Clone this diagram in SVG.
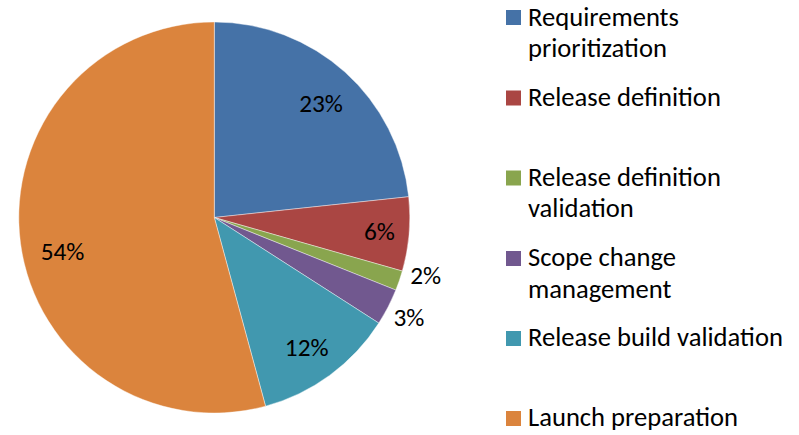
<svg xmlns="http://www.w3.org/2000/svg" width="799" height="435" viewBox="0 0 799 435">
  <style>
    text { font-family: Calibri, Carlito, "Open Sans", "Noto Sans", sans-serif; fill: #000; }
    .pct { font-size: 25.3px; text-anchor: middle; }
    .leg { font-size: 26.6px; }
    .slice { stroke: #ffffff; stroke-width: 0.6; stroke-opacity: 0.7; }
    .c1 { fill: #4572A7; }
    .c2 { fill: #AA4643; }
    .c3 { fill: #89A54E; }
    .c4 { fill: #71588F; }
    .c5 { fill: #4198AF; }
    .c6 { fill: #DB843D; }
  </style>
  <rect width="799" height="435" fill="#ffffff"/>

  <!-- pie slices, clockwise from 12 o'clock; centre (214.3, 217.5), r 195.5 -->
  <g id="pie">
    <g id="slice-requirements">
      <path class="slice c1" d="M214.3,217.5 L214.3,22 A195.5,195.5 0 0 1 408.69,196.73 Z"/>
      <text class="pct" x="321" y="112">23%</text>
    </g>
    <g id="slice-release-definition">
      <path class="slice c2" d="M214.3,217.5 L408.69,196.73 A195.5,195.5 0 0 1 402.32,271.06 Z"/>
      <text class="pct" x="379.5" y="240">6%</text>
    </g>
    <g id="slice-definition-validation">
      <path class="slice c3" d="M214.3,217.5 L402.32,271.06 A195.5,195.5 0 0 1 395.82,290.10 Z"/>
      <text class="pct" x="425.7" y="283.5">2%</text>
    </g>
    <g id="slice-scope-change">
      <path class="slice c4" d="M214.3,217.5 L395.82,290.10 A195.5,195.5 0 0 1 378.82,323.12 Z"/>
      <text class="pct" x="409" y="325.7">3%</text>
    </g>
    <g id="slice-build-validation">
      <path class="slice c5" d="M214.3,217.5 L378.82,323.12 A195.5,195.5 0 0 1 265.56,406.16 Z"/>
      <text class="pct" x="306.7" y="355.7">12%</text>
    </g>
    <g id="slice-launch">
      <path class="slice c6" d="M214.3,217.5 L265.56,406.16 A195.5,195.5 0 1 1 214.3,22 Z"/>
      <text class="pct" x="62.5" y="260">54%</text>
    </g>
  </g>

  <!-- legend -->
  <g id="legend">
    <g id="legend-requirements">
      <rect class="c1" x="506" y="10" width="15" height="15"/>
      <text class="leg" x="528" y="26">Requirements</text>
      <text class="leg" x="528" y="57">prioritization</text>
    </g>
    <g id="legend-release-definition">
      <rect class="c2" x="506" y="90.5" width="15" height="15"/>
      <text class="leg" x="528" y="105.5">Release definition</text>
    </g>
    <g id="legend-definition-validation">
      <rect class="c3" x="506" y="170.5" width="15" height="15"/>
      <text class="leg" x="528" y="186">Release definition</text>
      <text class="leg" x="528" y="217">validation</text>
    </g>
    <g id="legend-scope-change">
      <rect class="c4" x="506" y="251" width="15" height="15"/>
      <text class="leg" x="528" y="266">Scope change</text>
      <text class="leg" x="528" y="298">management</text>
    </g>
    <g id="legend-build-validation">
      <rect class="c5" x="506" y="331" width="15" height="15"/>
      <text class="leg" x="528" y="346">Release build validation</text>
    </g>
    <g id="legend-launch">
      <rect class="c6" x="506" y="411" width="15" height="15"/>
      <text class="leg" x="528" y="426">Launch preparation</text>
    </g>
  </g>
</svg>
